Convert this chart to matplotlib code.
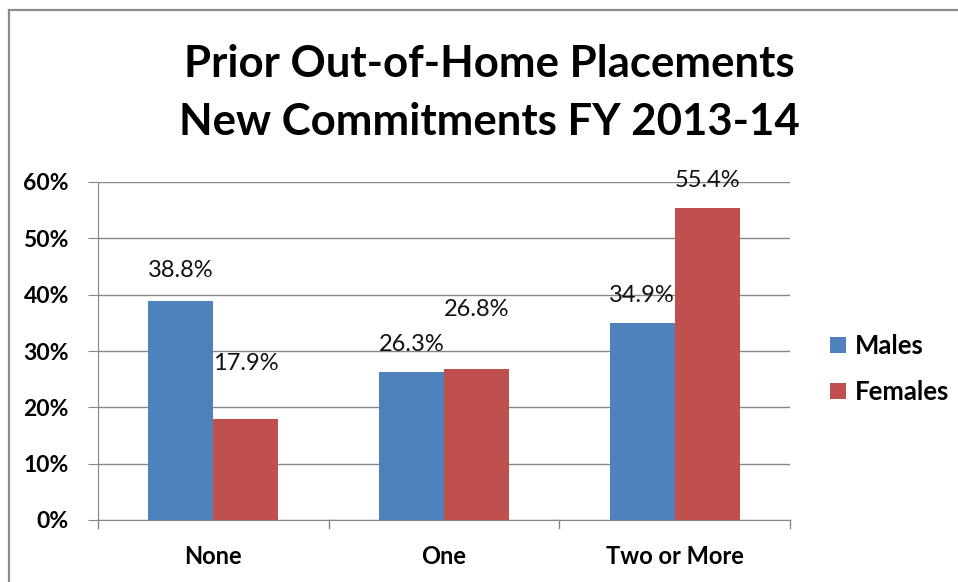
import matplotlib
matplotlib.use("Agg")
import matplotlib.pyplot as plt
from matplotlib.lines import Line2D

# ----- Data -----

categories = ["None", "One", "Two or More"]
males = [38.8, 26.3, 34.9]
females = [17.9, 26.8, 55.4]
series_names = ["Males", "Females"]
yticks = [0, 10, 20, 30, 40, 50, 60]

# ----- Style -----

BLUE = "#4F81BD"
RED = "#C0504D"
GRID = "#868686"
FONT = "Lato"

plt.rcParams["font.family"] = [FONT, "DejaVu Sans"]

fig = plt.figure(figsize=(9.58, 5.82), dpi=100)
ax = fig.add_axes([98 / 958, 1 - 520 / 582, (790 - 98) / 958, (520 - 182) / 582])

# outer chart border (only top and left visible in the crop)
fig.add_artist(Line2D([9 / 958, 1], [1 - 10 / 582] * 2, color="#8C8C8C", lw=1.6))
fig.add_artist(Line2D([9 / 958] * 2, [0, 1 - 10 / 582], color="#8C8C8C", lw=1.6))

bar_w = 0.282
x = list(range(len(categories)))
xm = [i - bar_w / 2 for i in x]
xf = [i + bar_w / 2 for i in x]
ax.bar(xm, males, width=bar_w, color=BLUE, label=series_names[0], zorder=3)
ax.bar(xf, females, width=bar_w, color=RED, label=series_names[1], zorder=3)

# data labels, offsets follow the hand-placed labels in the original
male_off = [22, 20, 20]
female_off = [40, 43, 20]
for xi, v, off in zip(xm, males, male_off):
    ax.annotate(f"{v:.1f}%", (xi, v), xytext=(0, off), textcoords="offset points",
                ha="center", va="center", fontsize=17, color="#111111")
for xi, v, off in zip(xf, females, female_off):
    ax.annotate(f"{v:.1f}%", (xi, v), xytext=(0, off), textcoords="offset points",
                ha="center", va="center", fontsize=17, color="#111111")

ax.set_xlim(-0.5, 2.5)
ax.set_ylim(0, 60)
ax.set_yticks(yticks)
ax.set_yticklabels([f"{t}%" for t in yticks], fontsize=16.5, fontweight="bold")
ax.set_xticks(x)
ax.set_xticklabels(categories, fontsize=17, fontweight="bold")
ax.tick_params(axis="x", length=0, pad=18)
ax.tick_params(axis="y", length=7, color=GRID, pad=14)

# category boundary tick marks on the x axis
for b in [-0.5, 0.5, 1.5, 2.5]:
    ax.plot([b, b], [0, -1.5], color=GRID, lw=1, clip_on=False, zorder=4)

ax.yaxis.grid(True, color=GRID, lw=1, zorder=0)
for s in ["top", "right"]:
    ax.spines[s].set_visible(False)
ax.spines["left"].set_color(GRID)
ax.spines["bottom"].set_color(GRID)

fig.text(489 / 958, 1 - 93 / 582, "Prior Out-of-Home Placements\nNew Commitments FY 2013-14",
         ha="center", va="center", fontsize=31.5, fontweight="bold", linespacing=1.55)

ax.legend(loc="center left", bbox_to_anchor=(830 / 958, 1 - 369 / 582),
          bbox_transform=fig.transFigure, frameon=False, borderpad=0, borderaxespad=0,
          prop={"weight": "bold", "size": 18.5}, handlelength=0.62, handleheight=0.62,
          labelspacing=0.85, handletextpad=0.35)

fig.savefig("out.png", dpi=100)
